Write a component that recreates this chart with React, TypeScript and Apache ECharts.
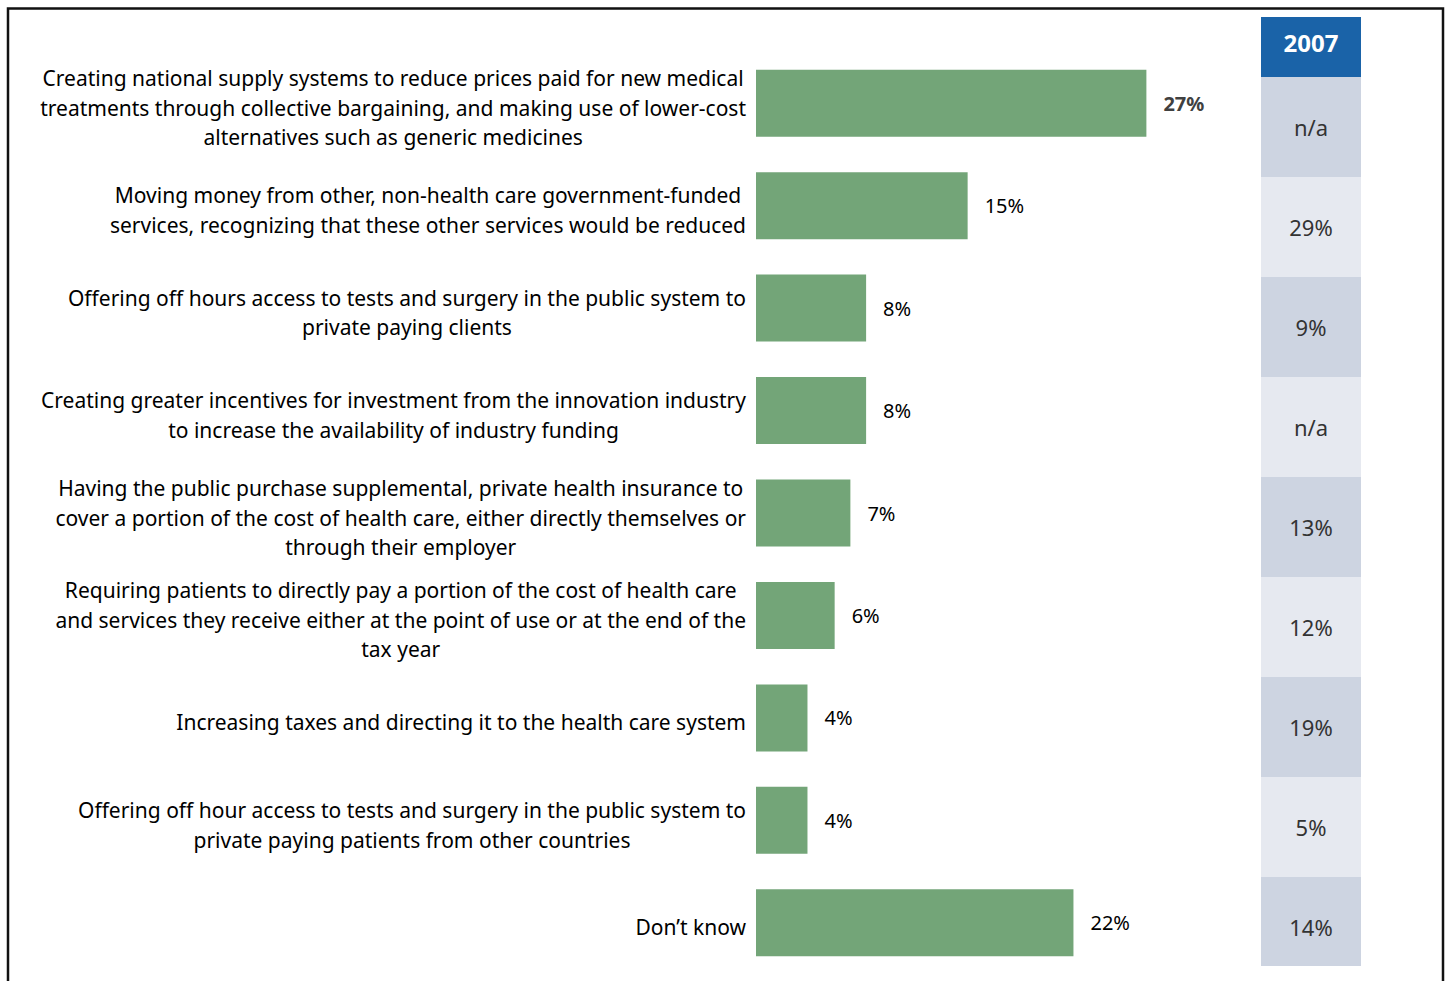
import React, { useEffect, useRef } from "react";
import * as echarts from "echarts";

const categories = [
  "Creating national supply systems to reduce prices paid for new medical\ntreatments through collective bargaining, and making use of lower-cost\nalternatives such as generic medicines",
  "Moving money from other, non-health care government-funded\nservices, recognizing that these other services would be reduced",
  "Offering off hours access to tests and surgery in the public system to\nprivate paying clients",
  "Creating greater incentives for investment from the innovation industry\nto increase the availability of industry funding",
  "Having the public purchase supplemental, private health insurance to\ncover a portion of the cost of health care, either directly themselves or\nthrough their employer",
  "Requiring patients to directly pay a portion of the cost of health care\nand services they receive either at the point of use or at the end of the\ntax year",
  "Increasing taxes and directing it to the health care system",
  "Offering off hour access to tests and surgery in the public system to\nprivate paying patients from other countries",
  "Don\u2019t know",
];

const values = [27.3, 14.8, 7.7, 7.7, 6.6, 5.5, 3.6, 3.6, 22.2];
const valueLabels = ["27%", "15%", "8%", "8%", "7%", "6%", "4%", "4%", "22%"];

const yearHeader = "2007";
const values2007 = ["n/a", "29%", "9%", "n/a", "13%", "12%", "19%", "5%", "14%"];

const FONT = "'Noto Sans', 'Open Sans', sans-serif";

export default function App() {
  const ref = useRef<HTMLDivElement>(null);

  useEffect(() => {
    if (!ref.current) return;
    const chart = echarts.init(ref.current, undefined, { renderer: "svg" });
    const option: any = {
      animation: false,
      backgroundColor: "#ffffff",
      textStyle: { fontFamily: FONT },
      grid: [
        { left: 756, top: 52, height: 922, width: 572 },
        { left: 1261, top: 77, height: 900, width: 100 },
      ],
      xAxis: [
        { type: "value", gridIndex: 0, min: 0, max: 40, show: false },
        { type: "value", gridIndex: 1, min: 0, max: 1, show: false },
      ],
      yAxis: [
        {
          type: "category",
          gridIndex: 0,
          inverse: true,
          data: categories,
          axisLine: { show: false },
          axisTick: { show: false },
          splitLine: { show: false },
          axisLabel: {
            margin: 10,
            fontSize: 21,
            lineHeight: 29.5,
            color: "#000",
            fontFamily: FONT,
            align: "right",
            padding: [9, 0, 0, 0],
            formatter: (v: string) =>
              v
                .split("\n")
                .map((l) => "{c|" + l + "}")
                .join("\n"),
            rich: {
              c: {
                align: "center",
                fontSize: 21,
                lineHeight: 29.5,
                color: "#000",
                fontFamily: FONT,
              },
            },
          },
        },
        {
          type: "category",
          gridIndex: 1,
          inverse: true,
          data: categories.map((_, i) => String(i)),
          show: false,
        },
      ],
      series: [
        {
          type: "bar",
          xAxisIndex: 0,
          yAxisIndex: 0,
          barWidth: 67,
          itemStyle: { color: "#73a578" },
          data: values.map((v, i) => ({
            value: v,
            label:
              i === 0
                ? { fontWeight: "bold", color: "#404040" }
                : { fontWeight: "normal", color: "#000" },
          })),
          label: {
            show: true,
            position: "right",
            distance: 17,
            fontSize: 20,
            fontFamily: FONT,
            formatter: (p: any) => valueLabels[p.dataIndex],
          },
        },
        {
          type: "bar",
          xAxisIndex: 1,
          yAxisIndex: 1,
          barWidth: "100%",
          data: values2007.map((_, i) => ({
            value: 1,
            itemStyle: { color: i % 2 === 0 ? "#cdd4e1" : "#e6e9f0" },
          })),
          label: {
            show: true,
            position: "inside",
            fontSize: 22,
            color: "#333",
            fontFamily: FONT,
            formatter: (p: any) => values2007[p.dataIndex],
          },
          silent: true,
        },
      ],
      graphic: [
        {
          type: "rect",
          z: 100,
          shape: { x: 1255, y: 966, width: 115, height: 20 },
          style: { fill: "#ffffff" },
          silent: true,
        },
        {
          type: "rect",
          z: 101,
          shape: { x: 8, y: 8.5, width: 1435, height: 1100 },
          style: { fill: "none", stroke: "#111", lineWidth: 2.5 },
          silent: true,
        },
        {
          type: "rect",
          shape: { x: 1261, y: 17, width: 100, height: 60 },
          style: { fill: "#1a63a8" },
        },
        {
          type: "text",
          x: 1311,
          y: 42,
          style: {
            text: yearHeader,
            fill: "#fff",
            font: `bold 24px ${FONT}`,
            textAlign: "center",
            textVerticalAlign: "middle",
          },
        },
      ],
    };
    chart.setOption(option);
    return () => chart.dispose();
  }, []);

  return (
    <div
      ref={ref}
      style={{ position: "absolute", left: 0, top: 0, width: 1448, height: 981 }}
    />
  );
}
